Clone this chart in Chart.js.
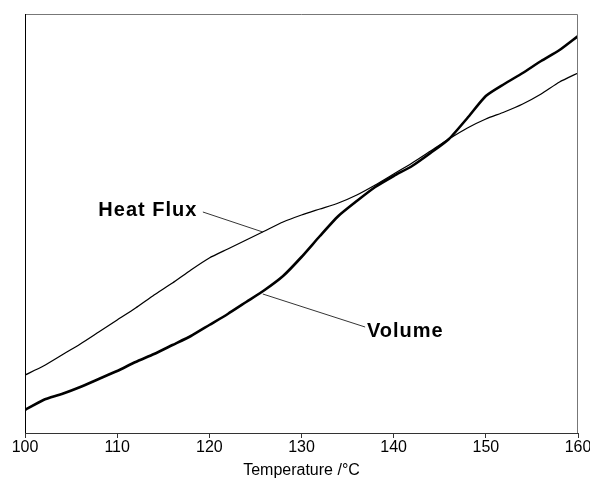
<!DOCTYPE html>
<html>
<head>
<meta charset="utf-8">
<script src="https://cdn.jsdelivr.net/npm/chart.js@4.4.1/dist/chart.umd.min.js"></script>
<style>
  html, body { margin: 0; padding: 0; background: #fff; }
  #wrap { width: 590px; height: 484px; }
</style>
</head>
<body>
<div id="wrap"><canvas id="c"></canvas></div>
<script>
// temperatures (°C)
const temps = [100, 102, 104, 106, 108, 110, 112, 114, 116, 118, 120, 122, 124, 126, 128, 130,
               132, 134, 136, 138, 140, 142, 144, 146, 148, 150, 152, 154, 156, 158, 160];

// relative signal (arbitrary units, no y axis in the picture)
const heatFlux = [58, 67, 78, 89, 101, 113, 125, 138, 150, 163, 175, 184, 193, 202, 211, 218,
                  224, 230, 238, 248, 259, 270, 282, 294, 305, 314, 321, 329, 339, 351, 360];
const volume = [23, 33, 39, 46, 54, 62, 71, 79, 88, 97, 108, 119, 131, 143, 157, 176,
                197, 217, 232, 246, 257, 267, 280, 294, 315, 337, 349, 360, 372, 383, 397];

const xTicks = [100, 110, 120, 130, 140, 150, 160];

function toPoints(xs, ys) {
  return xs.map((x, i) => ({ x: x, y: ys[i] }));
}

// frame + labels with leader lines
const decorations = {
  id: 'decorations',
  afterDraw(chart) {
    const ctx = chart.ctx;
    const a = chart.chartArea;
    const xs = chart.scales.x, ys = chart.scales.y;
    const px = v => xs.getPixelForValue(v);
    const py = v => ys.getPixelForValue(v);

    ctx.save();
    ctx.lineWidth = 1;
    ctx.strokeStyle = '#777';
    ctx.beginPath();
    ctx.moveTo(a.left, a.top + 0.5);
    ctx.lineTo(a.right - 0.5, a.top + 0.5);
    ctx.lineTo(a.right - 0.5, a.bottom);
    ctx.stroke();
    ctx.strokeStyle = '#000';
    ctx.beginPath();
    ctx.moveTo(a.left + 0.5, a.top);
    ctx.lineTo(a.left + 0.5, a.bottom);
    ctx.stroke();

    // leader lines
    ctx.strokeStyle = '#000';
    ctx.lineWidth = 0.8;
    ctx.beginPath();
    ctx.moveTo(px(119.3), py(221));
    ctx.lineTo(px(125.8), py(201));
    ctx.moveTo(px(125.8), py(139));
    ctx.lineTo(px(136.9), py(106));
    ctx.stroke();

    ctx.fillStyle = '#000';
    ctx.font = 'bold 20px "Liberation Sans", Arial, sans-serif';
    ctx.letterSpacing = '1px';
    ctx.textBaseline = 'middle';
    ctx.textAlign = 'right';
    ctx.fillText('Heat Flux', px(118.7), py(223));
    ctx.textAlign = 'left';
    ctx.fillText('Volume', px(137.1), py(102));
    ctx.restore();
  }
};

const ctx = document.getElementById('c');
new Chart(ctx, {
  type: 'line',
  data: {
    datasets: [{
      label: 'Heat Flux',
      data: toPoints(temps, heatFlux),
      borderColor: '#000',
      borderWidth: 1.3,
      pointRadius: 0,
      tension: 0.2,
      fill: false
    }, {
      label: 'Volume',
      data: toPoints(temps, volume),
      borderColor: '#000',
      borderWidth: 2.6,
      pointRadius: 0,
      tension: 0.2,
      fill: false
    }]
  },
  options: {
    responsive: true,
    maintainAspectRatio: false,
    animation: false,
    layout: { padding: { left: 25, right: 12, top: 14, bottom: 0 } },
    plugins: {
      legend: { display: false },
      tooltip: { enabled: false }
    },
    scales: {
      x: {
        type: 'linear',
        min: 100,
        max: 160,
        afterBuildTicks: (scale) => { scale.ticks = xTicks.map(v => ({ value: v })); },
        afterFit: (scale) => {
          scale.paddingLeft = 0;
          scale.paddingRight = 0;
          scale.height = 51;
        },
        grid: {
          drawOnChartArea: false,
          drawTicks: true,
          tickLength: 5,
          color: '#333'
        },
        border: { display: true, color: '#333', width: 1 },
        ticks: {
          padding: 0,
          maxRotation: 0,
          color: '#000',
          font: { family: '"Liberation Sans", Arial, sans-serif', size: 16 }
        },
        title: {
          display: true,
          text: 'Temperature /°C',
          color: '#000',
          padding: { top: 0, bottom: 4 },
          font: { family: '"Liberation Sans", Arial, sans-serif', size: 16 }
        }
      },
      y: {
        display: false,
        min: 0,
        max: 419
      }
    }
  },
  plugins: [decorations]
});
</script>
</body>
</html>
